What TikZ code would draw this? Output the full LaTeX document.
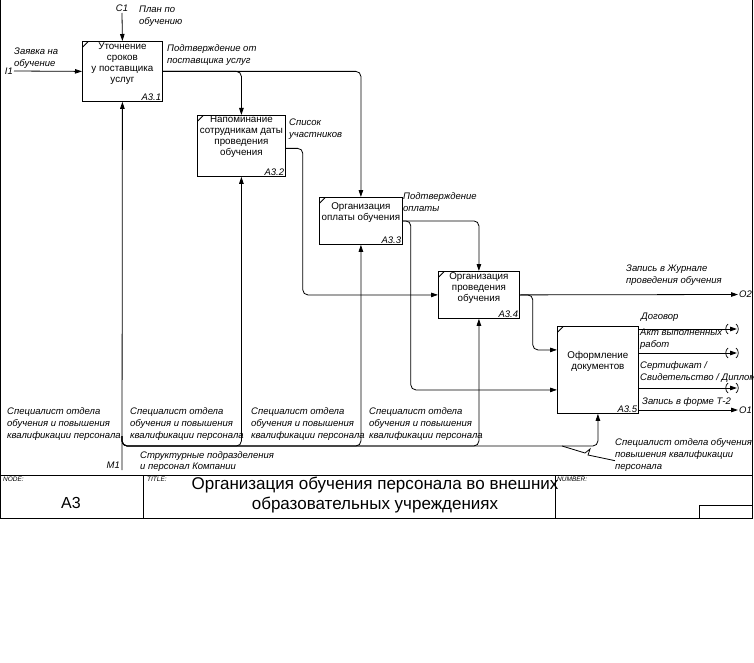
\documentclass[tikz,border=0pt]{standalone}
\usepackage{fontspec}
\setmainfont{Liberation Sans}
\usetikzlibrary{arrows.meta,positioning}

\begin{document}
\begin{tikzpicture}[x=1pt, y=-1pt,
        fn/.style={draw, line width=0.8pt, anchor=north west, inner sep=0pt,
                   path picture={\draw ([yshift=-6pt]path picture bounding box.north west)
                                 -- ([xshift=6pt]path picture bounding box.north west);}},
        fntext/.style={align=center, font=\fontsize{9.8}{11}\selectfont, inner sep=1pt},
        num/.style={anchor=south east, font=\itshape\fontsize{9.5}{11}\selectfont, inner sep=1.5pt},
        lbl/.style={anchor=north west, align=left, font=\itshape\fontsize{9.5}{12}\selectfont, inner sep=0pt},
        bnd/.style={font=\itshape\fontsize{9.5}{11}\selectfont, inner sep=1pt},
        tb/.style={anchor=north west, font=\itshape\fontsize{6.5}{7}\selectfont, inner sep=0pt},
        arr/.style={-{Triangle[length=7pt,width=4.5pt]}, line width=0.8pt, rounded corners=5pt},
        line/.style={line width=0.8pt},
        tunnel/.pic={
            \draw[line width=0.7pt] (-9,-5) .. controls (-12,-3) and (-12,3) .. (-9,5);
            \draw[line width=0.7pt] (-1,-5) .. controls (2,-3) and (2,3) .. (-1,5);
        }
    ]
    \useasboundingbox (0,0) rectangle (754,663);

    % ── Frame and title block ────────────────────────────────────────
    \draw[line] (0.5,0) -- (0.5,518) -- (752,518) -- (752,0);
    \draw[line] (0.5,475) -- (752,475);
    \draw[line] (143,475) -- (143,518);
    \draw[line] (555,475) -- (555,518);
    \draw[line] (699,518) |- (752,505);
    \node[tb] (nodelbl)  at (3,477)   {NODE:};
    \node[tb] (titlelbl) at (147,477) {TITLE:};
    \node[tb] (numlbl)   at (557,477) {NUMBER:};
    \node[font=\fontsize{16}{18}\selectfont] (nodeid) at (71,503) {A3};
    \node[align=center, font=\fontsize{17}{20}\selectfont] (title) at (375,495)
        {Организация обучения персонала во внешних\\образовательных учреждениях};

    % ── Activity boxes ───────────────────────────────────────────────
    \node[fn, minimum width=80, minimum height=60] (a1) at (82,41)  {};
    \node[fn, minimum width=88, minimum height=61] (a2) at (197,115) {};
    \node[fn, minimum width=83, minimum height=47] (a3) at (319,197) {};
    \node[fn, minimum width=81, minimum height=47] (a4) at (438,271) {};
    \node[fn, minimum width=81, minimum height=87] (a5) at (557,326) {};

    \node[fntext, below=1pt of a1.north]  (a1t) {Уточнение\\сроков\\у поставщика\\услуг};
    \node[fntext, below=0pt of a2.north]  (a2t) {Напоминание\\сотрудникам даты\\проведения\\обучения};
    \node[fntext, below=4pt of a3.north]  (a3t) {Организация\\оплаты обучения};
    \node[fntext, below=0pt of a4.north]  (a4t) {Организация\\проведения\\обучения};
    \node[fntext, below=24pt of a5.north] (a5t) {Оформление\\документов};

    \node[num] (a1n) at (a1.south east) {A3.1};
    \node[num] (a2n) at (a2.south east) {A3.2};
    \node[num] (a3n) at (a3.south east) {A3.3};
    \node[num] (a4n) at (a4.south east) {A3.4};
    \node[num] (a5n) at (a5.south east) {A3.5};

    % ── Boundary points ──────────────────────────────────────────────
    \coordinate (c1) at (122,13);
    \coordinate (i1) at (14,71);
    \coordinate (m1) at (122,470);
    \coordinate (o2) at (738,294.5);
    \coordinate (o1) at (738,410);
    \coordinate (t1) at (737,329);
    \coordinate (t2) at (737,353);
    \coordinate (t3) at (737,388);
    \coordinate (bus) at (122,446);

    % ── Control and input ────────────────────────────────────────────
    \draw[arr] (c1) -- (a1.north);
    \node[bnd, anchor=south] (c1l) at (c1) {C1};
    \node[lbl] (c1t) at (139,6) {План по\\обучению};

    \draw[arr] (i1) -- (a1.west);
    \node[bnd, anchor=east] (i1l) at (i1) {I1};
    \node[lbl] (i1t) at (14,48) {Заявка на\\обучение};

    % ── Flows between the boxes ──────────────────────────────────────
    \draw[arr] (a1.east) -- (a1.east -| a3.north) -- (a3.north);
    \draw[arr] (a1.east) -- (a1.east -| a2.north) -- (a2.north);
    \node[lbl] (a1o) at (167,44) {Подтверждение от\\поставщика услуг};

    \draw[arr] ([yshift=-2.5pt]a2.east) -- ++(17,0) |- (a4.west);
    \node[lbl] (a2o) at (289,119) {Список\\участников};

    \draw[arr] (a3.east) -| (a4.north);
    \draw[arr] (a3.east) -- ++(8,0) |- ([yshift=-20pt]a5.west);
    \node[lbl] (a3o) at (403,192) {Подтверждение\\оплаты};

    \draw[arr] (a4.east) -- (o2);
    \draw[arr] (a4.east) -- ++(13,0) |- ([yshift=20pt]a5.west);
    \node[bnd, anchor=west] (o2l) at (o2) {O2};
    \node[lbl] (a4o) at (626,265) {Запись в Журнале\\проведения обучения};

    % ── Outputs of A3.5 (three tunnelled) ────────────────────────────
    \draw[arr] (a5.east |- t1) -- (t1);
    \draw[arr] (a5.east |- t2) -- (t2);
    \draw[arr] (a5.east |- t3) -- (t3);
    \draw[arr] (a5.east |- o1) -- (o1);
    \pic at (t1) {tunnel};
    \pic at (t2) {tunnel};
    \pic at (t3) {tunnel};
    \node[bnd, anchor=west] (o1l) at (o1) {O1};
    \node[lbl] (d1) at (641,313) {Договор};
    \node[lbl] (d2) at (640,329) {Акт выполненных\\работ};
    \node[lbl] (d3) at (640,361) {Сертификат /\\Свидетельство / Диплом};
    \node[lbl] (d4) at (642,397) {Запись в форме Т-2};

    % ── Mechanism M1 and its branches ────────────────────────────────
    \draw[arr] (m1) -- (a1.south);
    \draw[arr] ([yshift=10pt]bus) -- (bus) -| (a2.south);
    \draw[arr] ([yshift=10pt]bus) -- (bus) -| (a3.south);
    \draw[arr] ([yshift=10pt]bus) -- (bus) -| (a4.south);
    \draw[arr] ([yshift=10pt]bus) -- (bus) -| (a5.south);
    \node[bnd, anchor=east] (m1l) at (121,465) {M1};
    \node[lbl, font=\itshape\fontsize{9.5}{11}\selectfont] (m1t) at (140,451)
        {Структурные подразделения\\и персонал Компании};

    \node[lbl] (m1s) at (7,407)   {Специалист отдела\\обучения и повышения\\квалификации персонала};
    \node[lbl] (m2s) at (130,407) {Специалист отдела\\обучения и повышения\\квалификации персонала};
    \node[lbl] (m3s) at (251,407) {Специалист отдела\\обучения и повышения\\квалификации персонала};
    \node[lbl] (m4s) at (369,407) {Специалист отдела\\обучения и повышения\\квалификации персонала};
    \node[lbl] (m5s) at (615,438) {Специалист отдела обучения\\повышения квалификации\\персонала};
    \draw[line] (562,446) -- (585,453) -- (590,449) -- (588,455) -- ([yshift=-6pt]m5s.west);

\end{tikzpicture}
\end{document}
